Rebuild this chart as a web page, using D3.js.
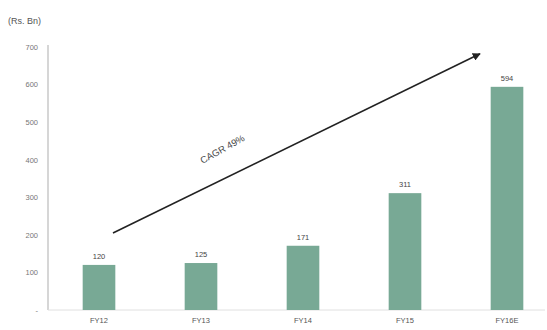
<!DOCTYPE html>
<head>
<meta charset="utf-8">
<title>Rs. Bn growth</title>
<script src="https://d3js.org/d3.v7.min.js"></script>
<style>
body { margin: 0; background: #fff; }
text { font-family: "Liberation Sans", Arial, sans-serif; }
</style>
</head>
<body>
<div id="chart"></div>
<script>
// data
var years = ["FY12", "FY13", "FY14", "FY15", "FY16E"];
var values = [120, 125, 171, 311, 594];
var yTicks = [0, 100, 200, 300, 400, 500, 600, 700];
var cagrLabel = "CAGR 49%";

var W = 547, H = 330;
var svg = d3.select("#chart").append("svg")
    .attr("width", W).attr("height", H);

// scales
var x = d3.scaleBand()
    .domain(years)
    .range([48, 558])
    .paddingInner(0.68)
    .paddingOuter(0.34);

var y = d3.scaleLinear()
    .domain([0, 700])
    .range([310, 47]);

// unit label
svg.append("text")
    .attr("x", 8).attr("y", 24)
    .style("font-size", "9px")
    .style("fill", "#555")
    .text("(Rs. Bn)");

// y axis
var yAxis = d3.axisLeft(y)
    .tickValues(yTicks)
    .tickSize(0)
    .tickPadding(10)
    .tickFormat(function(d) { return d === 0 ? "-" : d; });

var gy = svg.append("g")
    .attr("transform", "translate(48,0)")
    .call(yAxis);
gy.select(".domain").attr("stroke", "#c8c8c8").attr("stroke-width", 1.5)
    .attr("d", "M0," + (y(700) - 2) + "V" + y(0));
gy.selectAll("text").style("font-size", "7.5px").style("fill", "#777");

// x axis
var xAxis = d3.axisBottom(x).tickSize(0).tickPadding(8);
var gx = svg.append("g")
    .attr("transform", "translate(0," + y(0) + ")")
    .call(xAxis);
gx.select(".domain").attr("stroke", "#e0e0e0").attr("d", "M48,0H545");
gx.selectAll("text").style("font-size", "7.5px").style("fill", "#555");

// bars
svg.selectAll("rect.bar")
    .data(values)
    .enter().append("rect")
    .attr("class", "bar")
    .attr("x", function(d, i) { return x(years[i]); })
    .attr("y", function(d) { return y(d); })
    .attr("width", x.bandwidth())
    .attr("height", function(d) { return y(0) - y(d); })
    .attr("fill", "#78a995");

// value labels
svg.selectAll("text.val")
    .data(values)
    .enter().append("text")
    .attr("class", "val")
    .attr("x", function(d, i) { return x(years[i]) + x.bandwidth() / 2; })
    .attr("y", function(d) { return y(d) - 6; })
    .attr("text-anchor", "middle")
    .style("font-size", "7.5px")
    .style("fill", "#444")
    .text(function(d) { return d; });

// CAGR arrow
svg.append("defs").append("marker")
    .attr("id", "head")
    .attr("viewBox", "0 0 10 10")
    .attr("refX", 9).attr("refY", 5)
    .attr("markerWidth", 5).attr("markerHeight", 5)
    .attr("orient", "auto")
  .append("path")
    .attr("d", "M0,0L10,5L0,10z")
    .attr("fill", "#222");

var x1 = x("FY12") + x.bandwidth() / 2 + 14, y1 = y(205);
var x2 = x("FY16E") + x.bandwidth() / 2 - 27, y2 = y(682);
svg.append("line")
    .attr("x1", x1).attr("y1", y1)
    .attr("x2", x2).attr("y2", y2)
    .attr("stroke", "#222")
    .attr("stroke-width", 1.6)
    .attr("marker-end", "url(#head)");

var ang = Math.atan2(y2 - y1, x2 - x1) * 180 / Math.PI;
svg.append("text")
    .attr("transform", "translate(" + 224 + "," + 152 + ") rotate(" + (ang - 3) + ")")
    .attr("text-anchor", "middle")
    .style("font-size", "9.5px")
    .style("fill", "#444")
    .text(cagrLabel);
</script>
</body>
